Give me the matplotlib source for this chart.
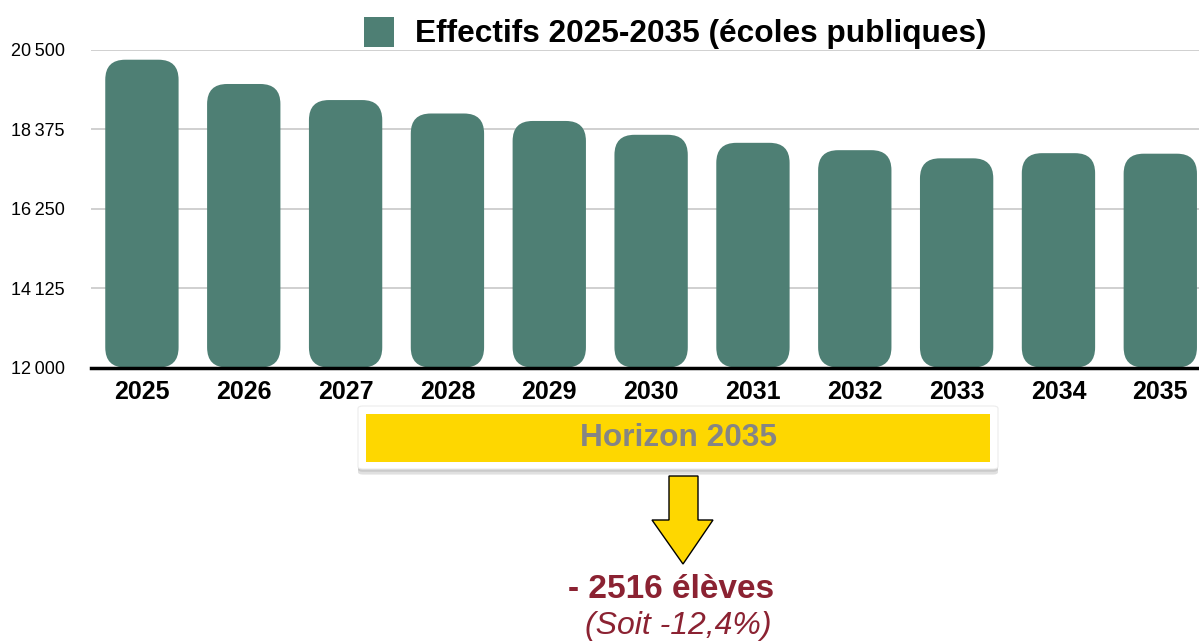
import matplotlib
matplotlib.use("Agg")
import matplotlib.pyplot as plt
from matplotlib.patches import FancyBboxPatch, Polygon, Rectangle
import matplotlib.patheffects as pe

# ---- data ----
years = ["2025", "2026", "2027", "2028", "2029", "2030", "2031", "2032", "2033", "2034", "2035"]
effectifs = [20240, 19590, 19160, 18800, 18600, 18230, 18015, 17818, 17600, 17738, 17724]
yticks = [12000, 14125, 16250, 18375, 20500]
ytick_labels = ["12\u2009000", "14\u2009125", "16\u2009250", "18\u2009375", "20\u2009500"]
legend_label = "Effectifs 2025-2035 (écoles publiques)"
box_text = "Horizon 2035"
result_text = "- 2516 élèves"
result_sub = "(Soit -12,4%)"

BAR = "#4e7f74"
FONT = ["Liberation Sans", "DejaVu Sans"]
plt.rcParams["font.family"] = FONT

W, H = 1199, 641
fig = plt.figure(figsize=(W / 100, H / 100), dpi=100)

def fx(px):
    return px / W

def fy(py):
    return 1 - py / H

ax = fig.add_axes([fx(91), fy(367.5), fx(1199) - fx(91), fy(50) - fy(367.5)])
ax.set_xlim(-0.5, 10.38)
ax.set_ylim(12000, 20500)

x = list(range(len(years)))
bars = ax.bar(x, [v - 12000 for v in effectifs], bottom=12000, width=0.72, color="none")

fig.canvas.draw()
# data units per pixel
p0 = ax.transData.transform((0, 12000))
p1 = ax.transData.transform((1, 13000))
xpp = 1.0 / (p1[0] - p0[0])
ypp = 1000.0 / (p1[1] - p0[1])
r_px = 20
for b in bars:
    bx, by = b.get_x(), b.get_y()
    bw, bh = b.get_width(), b.get_height()
    patch = FancyBboxPatch((bx, by), bw, bh,
                           boxstyle=f"round,pad=0,rounding_size={r_px * xpp}",
                           mutation_aspect=ypp / xpp,
                           facecolor=BAR, edgecolor="none", zorder=3)
    ax.add_patch(patch)
    b.set_visible(False)

ax.set_yticks(yticks)
ax.set_yticklabels(ytick_labels, fontsize=13)
ax.set_xticks(x)
ax.set_xticklabels(years, fontsize=18, fontweight="bold")
ax.tick_params(axis="y", length=0, pad=19)
ax.tick_params(axis="x", length=0, pad=9)
ax.grid(axis="y", color="#c8c8c8", linewidth=1.2, zorder=0)
ax.set_axisbelow(True)
for s in ["top", "right", "left"]:
    ax.spines[s].set_visible(False)
ax.spines["bottom"].set_color("black")
ax.spines["bottom"].set_linewidth(2.5)
ax.spines["bottom"].set_zorder(4)

# legend
fig.patches.append(Rectangle((fx(364), fy(47)), fx(394) - fx(364), fy(17) - fy(47),
                             transform=fig.transFigure, facecolor=BAR, edgecolor="none"))
fig.text(fx(415), fy(34), legend_label, fontsize=22.8, fontweight="bold",
         ha="left", va="center")

# Horizon box with shadow
outer = FancyBboxPatch((fx(358), fy(469)), fx(998) - fx(358), fy(406) - fy(469),
                       boxstyle="round,pad=0,rounding_size=0.004",
                       transform=fig.transFigure, facecolor="white", edgecolor="#ececec",
                       linewidth=0.8)
outer.set_path_effects([pe.SimplePatchShadow(offset=(0, -4), shadow_rgbFace="#999999", alpha=0.3),
                        pe.SimplePatchShadow(offset=(0, -2), shadow_rgbFace="#999999", alpha=0.3),
                        pe.Normal()])
fig.patches.append(outer)
fig.patches.append(Rectangle((fx(366), fy(461.5)), fx(990) - fx(366), fy(414) - fy(461.5),
                             transform=fig.transFigure, facecolor="#fed700", edgecolor="none"))
fig.text(fx(678), fy(438), box_text, fontsize=22.8, fontweight="bold", color="#858585",
         ha="center", va="center")

# arrow
pts = [(669, 476), (698, 476), (698, 520), (713, 520), (683, 564), (652, 520), (669, 520)]
fig.patches.append(Polygon([(fx(a), fy(b)) for a, b in pts], closed=True,
                           transform=fig.transFigure, facecolor="#fed700",
                           edgecolor="black", linewidth=1.0))

RED = "#8b2232"
fig.text(fx(671), fy(590), result_text, fontsize=24, fontweight="bold", color=RED,
         ha="center", va="center")
fig.text(fx(678), fy(626), result_sub, fontsize=23, style="italic", color=RED,
         ha="center", va="center")

fig.savefig("out.png", dpi=100)
